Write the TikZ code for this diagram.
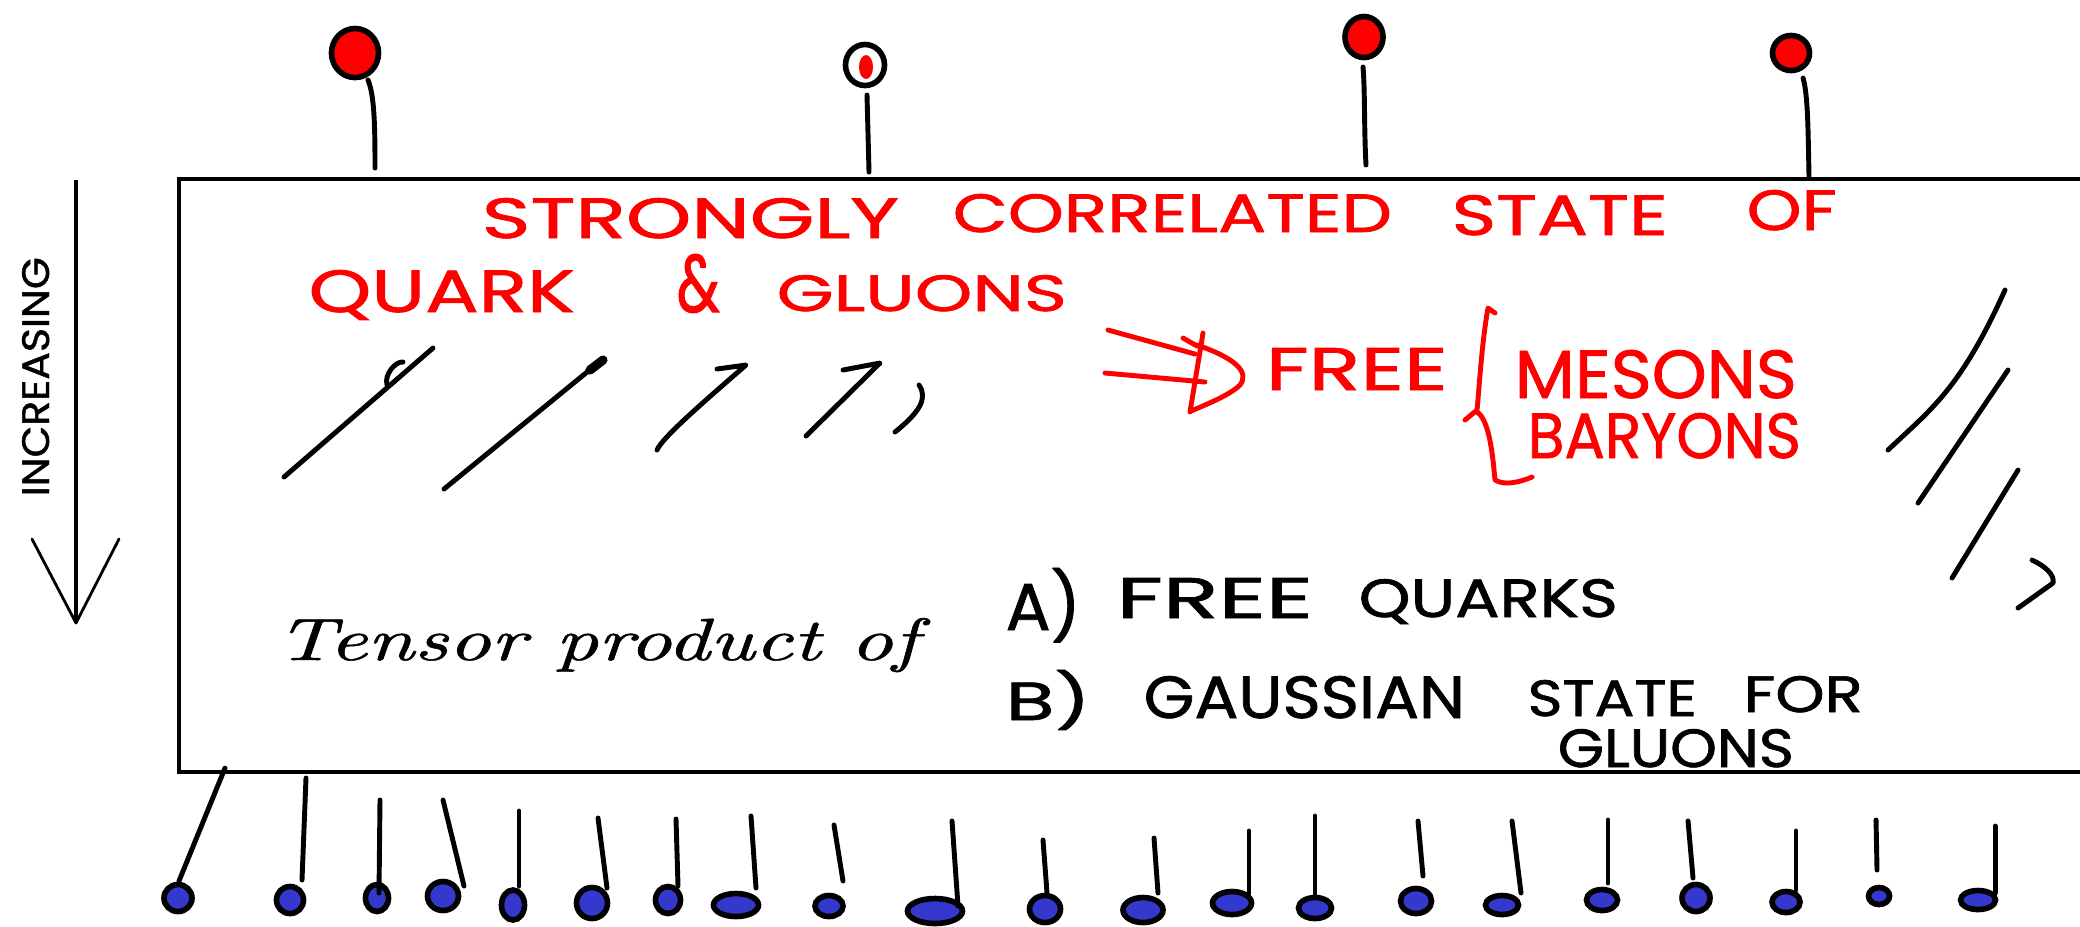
\documentclass[tikz,border=0pt]{standalone}
\usepackage{fontspec}
\usepackage{graphicx}
\newfontfamily\capsfont{Poppins}[FakeBold=1.2]
\newfontfamily\cursivefont{Latin Modern Roman}[FakeBold=0.8]
\usetikzlibrary{shapes.geometric}
\definecolor{inkred}{RGB}{255,0,0}
\definecolor{inkblue}{RGB}{52,56,204}
% hand-lettered word squeezed into a given width and cap height
\newcommand\handword[3]{\resizebox{#1}{#2}{\capsfont #3}}
\tikzset{
  ink/.style={line width=1.4pt, line cap=round, line join=round},
  thinink/.style={line width=0.8pt, line cap=round, line join=round},
  boxline/.style={line width=1.3pt, line join=miter},
  word/.style={inner sep=0pt, anchor=base west},
  bead/.style={ellipse, draw=black, line width=1.6pt, inner sep=0pt},
}
\begin{document}
\begin{tikzpicture}[x=0.01cm, y=-0.01cm]
\useasboundingbox (0,0) rectangle (2080,926);
\fill[white] (0,0) rectangle (2080,926);

% the state box, open to the right
\coordinate (boxTR) at (2080,179);
\coordinate (boxTL) at (179,179);
\coordinate (boxBL) at (179,772);
\coordinate (boxBR) at (2080,772);
\draw[boxline] (boxTR) -- (boxTL) -- (boxBL) -- (boxBR);

% red beads on top
\node[bead, fill=inkred, minimum width=0.47cm, minimum height=0.49cm] (t1) at (355,53) {};
\node[bead, fill=white, minimum width=0.39cm, minimum height=0.41cm] (t2) at (865,65) {};
\fill[inkred] (866,67) ellipse [x radius=7, y radius=12];
\node[bead, fill=inkred, minimum width=0.38cm, minimum height=0.41cm] (t3) at (1364,37) {};
\node[bead, fill=inkred, minimum width=0.37cm, minimum height=0.35cm] (t4) at (1791,53) {};
\coordinate (t1a) at (368,80);  \coordinate (t1b) at (375,168);
\coordinate (t2a) at (867,95);  \coordinate (t2b) at (869,172);
\coordinate (t3a) at (1363,67); \coordinate (t3b) at (1366,165);
\coordinate (t4a) at (1803,78); \coordinate (t4b) at (1809,177);
\draw[ink] (t1a) .. controls (374,95) and (375,120) .. (t1b);
\draw[ink] (t2a) -- (t2b);
\draw[ink] (t3a) .. controls (1365,90) and (1364,130) .. (t3b);
\draw[ink] (t4a) .. controls (1808,95) and (1808,130) .. (t4b);

% blue beads below
\foreach \cx/\cy/\w/\h/\ax/\ay/\bx/\by [count=\i] in {
  178/898/0.28/0.27/225/768/179/881,
  290/900/0.27/0.27/306/778/302/880,
  377/898/0.23/0.27/380/800/379/893,
  443/896/0.31/0.29/443/800/464/886,
  513/905/0.23/0.30/519/811/519/886,
  592/903/0.31/0.31/598/818/607/888,
  668/900/0.25/0.27/676/819/678/886,
  736/905/0.45/0.23/751/816/756/888,
  829/906/0.28/0.21/834/825/843/881,
  935/911/0.55/0.25/952/821/958/906,
  1045/909/0.31/0.27/1043/840/1047/893,
  1143/910/0.40/0.25/1154/838/1158/893,
  1232/903/0.39/0.23/1249/831/1249/893,
  1315/908/0.33/0.21/1315/816/1315/896,
  1416/901/0.31/0.25/1418/821/1423/876,
  1502/905/0.33/0.19/1512/821/1521/893,
  1602/900/0.31/0.21/1608/820/1608/883,
  1696/898/0.28/0.27/1688/821/1693/878,
  1786/902/0.28/0.21/1796/831/1796/890,
  1879/896/0.21/0.17/1876/820/1877/870,
  1978/900/0.35/0.19/1995/826/1995/893}{
  \node[bead, fill=inkblue, minimum width=\w cm, minimum height=\h cm] (b\i) at (\cx,\cy) {};
  \coordinate (s\i a) at (\ax,\ay);
  \coordinate (s\i b) at (\bx,\by);
  \draw[ink] (s\i a) -- (s\i b);
}

% "increasing" arrow on the left
\coordinate (arrTop) at (76,180);
\coordinate (arrTip) at (76,623);
\coordinate (arrL) at (32,539);
\coordinate (arrR) at (119,539);
\draw[line width=1.3pt] (arrTop) -- (arrTip);
\draw[thinink] (arrL) -- (arrTip) -- (arrR);
\node[word, rotate=90] (incr) at (49,497) {\handword{2.39cm}{0.27cm}{INCREASING}};

% red heading
\node[word, text=inkred] (h1) at (481,238) {\handword{4.17cm}{0.40cm}{STRONGLY}};
\node[word, text=inkred] (h2) at (952,232) {\handword{4.39cm}{0.38cm}{CORRELATED}};
\node[word, text=inkred] (h3) at (1451,235) {\handword{2.16cm}{0.40cm}{STATE}};
\node[word, text=inkred] (h4) at (1746,230) {\handword{0.90cm}{0.40cm}{OF}};
\node[word, text=inkred] (h5) at (308,312) {\handword{2.66cm}{0.42cm}{QUARK}};
\node[word, text=inkred] (h6) at (676,312) {\handword{0.43cm}{0.58cm}{\&}};
\node[word, text=inkred] (h7) at (776,311) {\handword{2.90cm}{0.36cm}{GLUONS}};

% hatching strokes, left group
\draw[ink] (284,477) -- (433,348);
\draw[ink] (387,385) .. controls (384,374) and (396,361) .. (403,362);
\draw[ink] (444,489) -- (603,359);
\draw[line width=2.6pt, line cap=round] (590,370) -- (603,360);
\draw[ink] (657,450) .. controls (662,438) and (700,405) .. (746,365) -- (717,369);
\draw[ink] (806,436) -- (880,363) -- (843,370);
\draw[ink] (919,385) .. controls (928,398) and (920,412) .. (895,432);

% hatching strokes, right group
\draw[ink] (1888,450) .. controls (1930,410) and (1960,390) .. (2005,290);
\draw[ink] (1918,503) -- (2008,370);
\draw[ink] (1952,578) -- (2018,470);
\draw[ink] (2032,560) .. controls (2045,566) and (2055,575) .. (2053,583) -- (2018,608);

% red implication arrow
\coordinate (imp1a) at (1108,330); \coordinate (imp1b) at (1195,354);
\coordinate (imp2a) at (1105,373); \coordinate (imp2b) at (1205,382);
\draw[ink, inkred] (imp1a) -- (imp1b);
\draw[ink, inkred] (imp2a) -- (imp2b);
\draw[ink, inkred] (1183,338) -- (1197,346);
\draw[ink, inkred] (1203,333) -- (1190,412);
\draw[ink, inkred] (1197,345) .. controls (1235,358) and (1250,372) .. (1240,385)
  .. controls (1230,395) and (1205,405) .. (1191,411);
\node[word, text=inkred] (free) at (1265,390) {\handword{1.82cm}{0.42cm}{FREE}};

% red brace
\draw[ink, inkred] (1495,313) -- (1488,308)
  .. controls (1482,340) and (1479,390) .. (1477,410) -- (1465,420);
\draw[ink, inkred] (1477,412) .. controls (1490,420) and (1493,460) .. (1495,480)
  .. controls (1505,486) and (1520,482) .. (1532,477);
\node[word, text=inkred] (mesons) at (1514,398) {\handword{2.82cm}{0.48cm}{MESONS}};
\node[word, text=inkred] (baryons) at (1527,458) {\handword{2.73cm}{0.45cm}{BARYONS}};

% black notes
\node[word] (tensor) at (275,660) {\resizebox{6.42cm}{0.42cm}{\cursivefont\itshape Tensor product of}};
\node[word] (la) at (1005,630) {\handword{0.75cm}{0.62cm}{A)}};
\node[word] (a1) at (1116,618) {\handword{1.96cm}{0.40cm}{FREE}};
\node[word] (a2) at (1358,617) {\handword{2.59cm}{0.38cm}{QUARKS}};
\node[word] (lb) at (1005,720) {\handword{0.85cm}{0.50cm}{B)}};
\node[word] (b1w) at (1143,718) {\handword{3.21cm}{0.42cm}{GAUSSIAN}};
\node[word] (b2w) at (1527,716) {\handword{1.69cm}{0.36cm}{STATE}};
\node[word] (b3w) at (1743,712) {\handword{1.19cm}{0.36cm}{FOR}};
\node[word] (b4w) at (1557,767) {\handword{2.36cm}{0.38cm}{GLUONS}};
\end{tikzpicture}
\end{document}
